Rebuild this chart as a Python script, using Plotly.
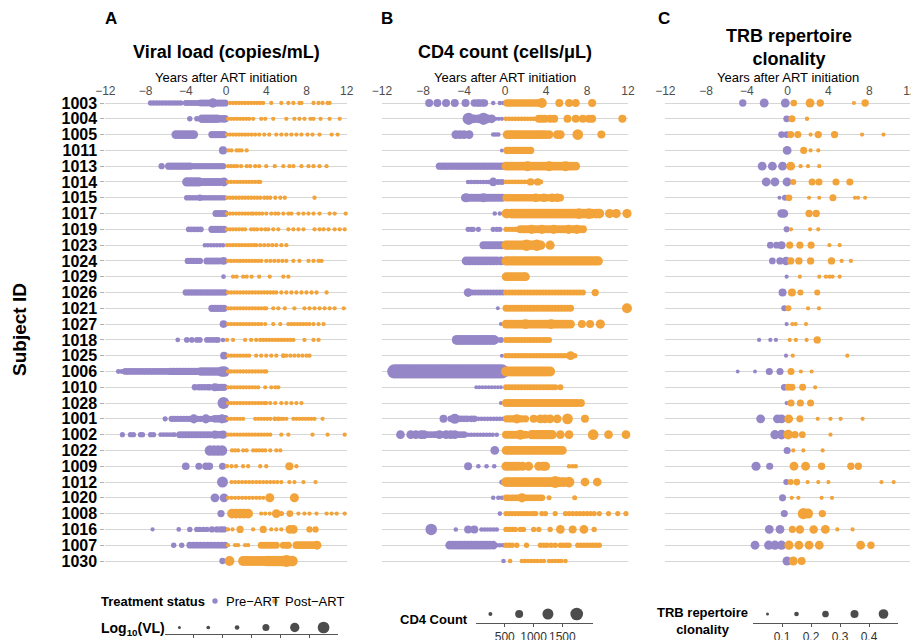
import numpy as np
import plotly.graph_objects as go

subjects = ["1003", "1004", "1005", "1011", "1013", "1014", "1015", "1017", "1019", "1023",
            "1024", "1029", "1026", "1021", "1027", "1018", "1025", "1006", "1010", "1028",
            "1001", "1002", "1022", "1009", "1012", "1020", "1008", "1016", "1007", "1030"]

year_ticks = [-12, -8, -4, 0, 4, 8, 12]
year_labels = ["\u221212", "\u22128", "\u22124", "0", "4", "8", "12"]

# Viral load: per subject, groups of (years after ART, log10 VL)
viral_load = [
    [([-7.5, -7.2, -6.9, -6.6, -6.3, -6.0, -5.7, -5.4, -5.1, -4.8, -4.5], 3.8), ([-4.0, -3.7, -3.4, -3.1, -2.8], 4.0),
     ([-2.5, -2.2, -1.9, -1.6], 4.4), ([-1.3], 5.5), ([-1.0, -0.7, -0.4, -0.1], 4.6),
     ([0.4, 0.7, 1.0, 1.3, 1.6, 1.9, 2.2, 2.5, 2.8, 3.1, 3.4, 3.7, 4.5, 5.5, 6.2, 6.7, 7.3, 7.5, 8.7, 9.2, 9.6, 10.1, 10.3], 3.1)],
    [([-3.6, -2.9], 3.8), ([-2.4, -2.1, -1.8, -1.5, -1.2, -0.9], 5.2), ([-0.6, -0.3, -0.1], 4.8),
     ([0.2, 0.5, 0.8, 1.1, 1.4, 1.7, 2.0, 2.3, 2.7, 3.5, 3.9, 4.7, 6.0, 6.8, 7.3, 7.8, 8.4, 8.7, 9.4, 10.3, 11.3], 3.1)],
    [([-5.0, -4.7, -4.4, -4.1, -3.8, -3.5, -3.2], 5.2), ([-1.4, -1.1, -0.8, -0.5, -0.2], 4.6),
     ([0.1, 0.4, 0.7, 1.0, 1.3, 1.6, 1.9, 2.2, 2.55, 2.9, 3.3, 3.8, 4.3, 5.0, 5.5, 6.0, 6.5, 7.0, 7.5, 8.1, 8.6, 9.3, 10.5, 11.1], 3.1)],
    [([-0.3], 5.0), ([0.25, 0.55, 1.05, 1.3, 1.55, 2.05], 3.1)],
    [([-6.4], 4.2), ([-5.7, -5.4, -5.1, -4.8, -4.5, -4.2, -3.9, -3.6], 4.6),
     ([-3.3, -3.0, -2.7, -2.4, -2.1, -1.8, -1.5, -1.2, -0.9, -0.6, -0.3], 4.2),
     ([0.2, 0.5, 0.8, 1.1, 1.5, 2.05, 2.4, 2.9, 3.3, 4.0, 4.85, 5.7, 6.3, 6.7, 7.5, 8.2, 8.7, 9.3, 10.0], 3.1)],
    [([-3.9, -3.6, -3.3, -3.0, -2.7], 5.5), ([-2.4, -2.1, -1.8, -1.5, -1.2, -0.9, -0.6], 5.0), ([-0.2], 5.3),
     ([0.2, 0.5, 0.8, 1.1, 1.4, 1.7, 2.0, 2.3, 2.6, 2.9, 3.2, 3.4], 3.1)],
    [([-3.9, -3.6, -3.3, -3.0, -2.3, -2.0, -1.7, -1.4, -1.1, -0.8, -0.5, -0.2], 3.9), ([-2.6], 4.3),
     ([0.1, 0.4, 0.7, 1.0, 1.3, 1.6, 1.9, 2.2, 2.5, 2.8, 3.1, 3.4, 3.8, 4.1, 4.4, 4.9, 5.4, 5.85, 8.8], 3.1)],
    [([-1.0, -0.7, -0.4, -0.1], 4.5),
     ([0.1, 0.4, 0.7, 1.0, 1.3, 1.6, 1.9, 2.2, 2.5, 2.7, 3.0, 3.3, 3.6, 4.0, 4.5, 4.9, 5.2, 5.7, 6.2, 6.5, 7.2, 7.7, 8.2, 8.7, 9.3, 10.3, 10.8, 11.9], 3.1)],
    [([-3.7, -3.4, -3.1, -2.8, -2.5], 4.0), ([-1.4, -1.1, -0.8, -0.5, -0.2], 4.6),
     ([0.1, 0.4, 0.7, 1.0, 1.3, 1.6, 1.9, 2.5, 2.8, 3.1, 3.5, 3.9, 4.2, 4.7, 5.2, 6.2, 6.7, 7.2, 7.7, 8.8, 9.3, 9.7, 10.2, 10.8, 11.3, 11.8], 3.1)],
    [([-2.1, -1.8, -1.5, -1.2, -0.9, -0.6, -0.3], 3.3),
     ([0.1, 0.4, 0.7, 1.0, 1.3, 1.6, 1.9, 2.2, 2.5, 2.8, 3.0, 3.4, 3.8, 4.2, 4.6, 5.0, 5.5, 6.0], 3.1)],
    [([-3.8, -3.5, -3.2, -2.9, -2.6], 4.2), ([-1.9, -1.6, -1.3, -1.0, -0.7], 4.5), ([-0.25], 4.8),
     ([0.2, 0.5, 0.8, 1.1, 1.4, 1.7, 2.0, 2.3, 2.6, 2.9, 3.2, 3.5, 4.0, 4.4, 4.8, 5.2, 5.6, 6.0, 6.7, 7.3, 8.2, 8.7, 9.2, 9.5], 3.1)],
    [([-0.25], 3.5), ([0.7, 1.05, 1.7, 2.05, 2.55, 3.3, 4.35, 5.7, 6.2], 3.1)],
    [([-4.0, -3.7, -3.4, -3.1, -2.8, -2.5, -2.2, -1.9, -1.6, -1.3, -1.0, -0.7, -0.4, -0.1], 4.2),
     ([0.2, 0.5, 0.8, 1.1, 1.4, 1.7, 2.0, 2.3, 2.6, 2.9, 3.2, 3.5, 3.8, 4.1, 4.4, 4.7, 5.0, 5.5, 6.0, 6.5, 7.0, 7.5, 8.0, 8.5, 9.0, 10.0], 3.1)],
    [([-1.4, -1.1, -0.8, -0.5, -0.2], 4.6),
     ([0.2, 0.5, 0.8, 1.1, 1.4, 1.7, 2.0, 2.3, 2.6, 2.9, 3.2, 3.5, 3.8, 4.0, 4.7, 5.2, 5.85, 6.8, 7.8, 8.3, 8.8, 9.3, 9.8, 10.3, 10.8, 11.7], 3.1)],
    [([-0.25], 4.8),
     ([0.2, 0.5, 0.8, 1.1, 1.4, 1.7, 2.0, 2.3, 2.6, 2.9, 3.2, 3.5, 3.9, 4.7, 5.4, 6.2, 6.5, 6.8, 7.1, 7.4, 7.7, 8.0, 8.3, 8.7, 9.2, 9.7], 3.1)],
    [([-4.8], 3.5), ([-3.9, -3.4, -2.9, -2.6, -1.9, -1.6, -1.3, -1.0, -0.8], 3.9), ([-0.3], 3.3),
     ([0.1, 0.7, 1.9, 2.5, 3.0, 3.4, 3.7, 4.0, 4.3, 4.6, 4.9, 5.2, 5.5, 5.8, 6.1, 6.4, 6.7, 7.8, 8.7, 9.2], 3.1)],
    [([-0.2], 4.8), ([0.2, 0.5, 0.8, 1.1, 1.4, 1.7, 2.0, 2.3, 3.0, 3.5, 4.0, 4.5, 5.0, 6.0, 6.4, 6.8, 7.2, 7.6, 8.0, 8.3], 3.1),
     ([5.7], 3.6)],
    [([-10.7, -10.35], 3.6), ([-10.0, -9.7, -9.4, -9.1, -8.8, -8.5, -8.2, -7.9, -7.6, -7.3, -7.0, -6.7, -6.4, -6.1, -5.8], 4.4),
     ([-5.5, -5.2, -4.9, -4.6, -4.3, -4.0, -3.7, -3.4, -3.1, -2.8], 4.6), ([-2.5, -2.2, -1.9, -1.6, -1.3, -1.0, -0.7], 5.2),
     ([-0.4, -0.15], 6.0), ([0.2, 0.5, 0.8, 1.1, 1.4, 1.7, 2.0, 2.3, 2.6, 2.9, 3.2, 3.5, 3.8, 4.0], 3.1)],
    [([-3.1], 4.2), ([-2.7, -2.4, -2.1, -1.8, -1.6], 4.2), ([-1.1], 5.0), ([-0.8, -0.5, -0.2], 4.6),
     ([0.2, 0.5, 0.8, 1.1, 1.4, 1.7, 2.0, 2.3, 2.6, 2.9, 3.2, 3.9, 4.5, 4.9, 5.2], 3.1)],
    [([-0.25], 6.6), ([0.2, 0.5, 0.8, 1.1, 1.4, 1.7, 2.0, 2.3, 2.6, 2.9, 3.2, 3.5, 3.8, 4.0, 4.4, 4.9, 5.5, 6.0, 6.5, 7.0, 7.5], 3.1)],
    [([-6.05], 3.7), ([-5.4, -5.1, -4.8, -4.5, -4.2, -3.9, -3.6, -2.8, -2.5, -1.7, -1.4], 4.2), ([-3.2, -2.0, -0.4], 5.4),
     ([-1.1, -0.8, -0.1], 4.8),
     ([0.2, 0.5, 0.8, 1.1, 1.4, 1.7, 2.9, 3.2, 3.5, 3.8, 4.1, 4.4, 5.5, 5.7, 6.0, 6.7, 7.0, 7.3, 7.6, 7.9, 8.2, 8.5, 8.8, 9.6], 3.1),
     ([4.85, 5.2], 3.6)],
    [([-10.3, -9.5, -9.2, -8.5, -8.3, -7.5, -7.2], 3.7), ([-6.5, -6.2, -5.9, -5.6, -5.3, -5.1], 3.5),
     ([-4.6, -4.3, -4.0, -3.7, -3.4, -3.1, -2.8, -2.5, -2.2, -1.9, -1.6], 4.5), ([-1.1, -0.3], 5.0), ([-0.8, -0.55], 4.6),
     ([0.2, 0.5, 0.8, 1.1, 1.4, 1.7, 2.0, 2.3, 2.6, 2.9, 3.2, 3.5, 3.8, 4.1, 4.4, 5.5, 6.2, 8.6, 10.1, 11.8], 3.1)],
    [([-1.6, -1.2, -0.8, -0.4], 6.0), ([0.6, 0.9, 1.2, 1.7, 2.05, 2.7, 3.0, 3.3, 3.6, 3.9, 4.4, 5.0, 5.4], 3.1)],
    [([-4.0], 4.8), ([-2.7], 4.5), ([-2.0, -1.65], 4.7), ([-0.35], 4.5), ([0.1, 0.55, 1.0, 1.7, 2.2, 3.4, 4.0, 7.0], 3.1),
     ([6.3], 5.0)],
    [([-0.35], 6.2), ([0.55, 0.9, 1.25, 1.6, 1.95, 2.3, 2.65, 3.0, 3.35, 3.7, 4.05, 4.4, 4.75, 5.1, 5.5, 6.3, 6.8, 7.7, 8.9], 3.1)],
    [([-1.1, -0.2], 5.3), ([0.2, 0.55, 0.9, 1.25, 1.6, 1.95, 2.3, 2.65, 3.0, 3.35, 3.7], 3.1), ([4.35, 6.8], 5.4)],
    [([-0.5], 4.6), ([0.6, 1.0, 1.4, 1.8, 2.2], 5.7), ([3.5, 3.9, 4.35, 7.2, 7.8, 8.3, 9.0, 10.0, 10.5, 11.0, 11.8], 3.1),
     ([5.0], 5.3), ([5.5], 3.8), ([6.35], 4.4)],
    [([-7.3], 3.0), ([-4.7], 3.5), ([-3.6, -2.9, -2.6, -2.25, -1.9], 3.8), ([-1.4, -0.9, -0.5, -0.2], 4.2),
     ([0.2, 0.65, 2.7, 4.5, 5.0, 5.5], 3.1), ([1.4, 3.7], 4.6), ([6.35, 6.7], 5.2), ([8.3, 8.9], 4.2)],
    [([-5.2, -4.4], 3.8), ([-3.6, -3.25, -2.9, -2.55, -2.2, -1.85, -1.5, -1.15, -0.8, -0.45, -0.1], 4.4),
     ([0.2, 0.9, 1.2, 1.9, 2.2], 3.1), ([3.5, 3.8, 4.1, 4.4, 4.7, 5.0, 5.7, 6.0, 6.2], 4.5),
     ([7.0, 7.3, 7.6, 7.9, 8.2, 8.5, 8.8], 4.8), ([9.05], 5.3)],
    [([-0.35], 4.2), ([0.35], 5.7), ([1.7, 2.0, 2.3, 2.6, 2.9, 3.2, 3.5, 3.8], 5.8), ([4.1, 4.4, 4.7, 5.0, 5.3, 5.6, 6.3, 6.6], 6.1),
     ([6.0], 6.7)],
]

# CD4 count: per subject, groups of (years after ART, cells/uL)
cd4_count = [
    [([-7.4, -6.6, -5.75, -4.9, -3.85], 750), ([-3.0, -2.7, -2.5, -2.2, -2.0], 660), ([-1.15, -0.5, -0.15], 320),
     ([0.2, 0.45, 0.7, 0.95, 1.2, 1.45, 1.7, 1.95, 2.2, 2.45, 2.7, 2.95, 3.2, 3.4], 700), ([3.6], 1050), ([5.3, 6.25, 6.9, 8.5], 750)],
    [([-3.55, -2.1], 1600), ([-3.0, -2.6, -1.7, -1.3], 870), ([-0.9, -0.6, -0.3], 280),
     ([0.1, 0.4, 0.7, 1.0, 1.3, 1.6, 1.9, 2.2, 2.5, 2.8], 350), ([3.3, 3.6, 3.9, 4.4, 4.8, 6.1, 6.9, 7.6, 8.2, 8.5, 11.45], 750)],
    [([-4.8, -4.4, -4.0, -3.5], 870), ([-1.15, -0.9, -0.65], 320),
     ([0.2, 0.45, 0.7, 0.95, 1.2, 1.45, 1.7, 1.95, 2.2, 2.45, 2.7, 2.95, 3.2, 3.45, 3.7, 3.95, 4.3, 5.1, 5.4], 870), ([7.1], 1200),
     ([9.4], 750)],
    [([-0.3], 250), ([0.2, 0.45, 0.7, 0.95, 1.2, 1.45, 1.7, 1.95, 2.2, 2.5], 660)],
    [([-6.4, -6.1, -5.8, -5.5, -5.2, -4.9, -4.6, -4.3, -4.0, -3.7, -3.4, -3.1, -2.8, -2.5, -2.2, -1.9, -1.6, -1.3, -1.0, -0.7, -0.4, -0.15], 660),
     ([0.1, 0.35, 0.6, 0.85, 1.1, 1.35, 1.6, 1.85, 2.1, 2.35, 2.6, 2.85, 3.1, 3.35, 3.6, 3.85, 4.1, 4.35, 4.6, 4.85, 5.1, 5.35, 5.6, 5.85, 6.1, 6.35, 6.6, 6.9], 870),
     ([2.2, 4.3, 5.9], 1080)],
    [([-3.6, -3.3, -3.0, -2.7, -2.4, -2.1, -1.8, -1.6], 320), ([-1.15], 870), ([-0.65, -0.3], 500),
     ([0.1, 0.4, 0.7, 1.0, 1.3, 1.6, 1.9, 2.2, 2.8, 3.1, 3.5], 350), ([2.5, 3.2], 660)],
    [([-3.9, -3.6, -3.3, -3.0, -2.7, -2.4, -2.1, -1.8, -1.5, -1.2, -0.9, -0.6, -0.3], 750), ([-3.8, -2.1], 900),
     ([0.1, 0.35, 0.6, 0.85, 1.1, 1.35, 1.6, 1.85, 2.1, 2.35, 2.6, 2.85, 3.2, 3.5, 3.8, 4.1, 4.5, 4.8, 5.1, 5.4], 660),
     ([3.0, 3.8, 4.6, 5.1], 870)],
    [([-1.0, -0.5], 320), ([0.16], 1050),
     ([0.65, 0.9, 1.15, 1.4, 1.65, 1.9, 2.15, 2.4, 2.65, 2.9, 3.15, 3.4, 3.65, 3.9, 4.15, 4.4, 4.65, 4.9, 5.15, 5.4, 5.65, 5.9, 6.15, 6.4, 6.65, 6.9, 7.4, 7.7, 8.0, 8.5, 8.9, 9.2], 1050),
     ([7.2, 8.2], 1200), ([10.2, 10.85, 11.9], 950)],
    [([-3.6, -3.3, -3.1, -2.6], 400), ([-1.15, -0.8, -0.5], 400), ([0.1, 0.4, 0.7, 1.0, 1.15], 420),
     ([1.5, 1.8, 2.1, 2.4, 2.7, 3.0, 3.3, 3.6, 3.9, 4.2, 4.5, 4.8, 5.1, 5.4, 5.7, 6.0, 6.3, 6.6, 6.9, 7.2, 7.6], 750),
     ([2.6, 3.6, 4.75, 6.2, 7.0], 950)],
    [([-2.1, -1.8, -1.5, -1.2, -0.9, -0.6, -0.3], 750),
     ([0.1, 0.35, 0.6, 0.85, 1.1, 1.35, 1.6, 1.85, 2.1, 2.35, 2.6, 2.85, 3.1, 3.5], 950), ([2.1, 3.1], 1400), ([4.4], 950)],
    [([-3.8, -3.5, -3.2, -2.9, -2.6, -2.3, -2.0, -1.7, -1.4, -1.1, -0.8, -0.4], 870),
     ([0.1, 0.35, 0.6, 0.85, 1.1, 1.35, 1.6, 1.85, 2.1, 2.35, 2.6, 2.85, 3.1, 3.35, 3.6, 3.85, 4.1, 4.35, 4.6, 4.85, 5.1, 5.35, 5.6, 5.85, 6.1, 6.35, 6.6, 6.85, 7.1, 7.35, 7.6, 7.85, 8.1, 8.35, 8.6, 8.85, 9.1], 950)],
    [([0.1, 0.35, 0.6, 0.85, 1.1, 1.35, 1.6, 1.85, 2.0], 870)],
    [([-3.6], 870), ([-3.2, -2.9, -2.6, -2.3, -2.0, -1.7, -1.4, -1.1, -0.8, -0.5, -0.2], 500),
     ([0.1, 0.4, 0.7, 1.0, 1.3, 1.6, 1.9, 2.2, 2.5, 2.8, 3.1, 3.4, 3.7, 4.0, 4.3, 4.6, 4.9, 5.2, 5.5, 5.8, 6.1, 6.4, 6.7, 7.0, 7.3, 7.6], 500),
     ([8.8], 660)],
    [([-0.7], 250),
     ([0.1, 0.4, 0.7, 1.0, 1.3, 1.6, 1.9, 2.2, 2.5, 2.8, 3.1, 3.4, 3.7, 4.0, 4.3, 4.6, 4.9, 5.2, 5.5, 5.8, 6.1, 6.4], 620),
     ([11.9], 1080)],
    [([-0.4], 250),
     ([0.1, 0.35, 0.6, 0.85, 1.1, 1.35, 1.6, 1.85, 2.1, 2.35, 2.6, 2.85, 3.1, 3.35, 3.6, 3.85, 4.1, 4.35, 4.6, 4.85, 5.1, 5.35, 5.6, 5.85, 6.1, 6.4], 870),
     ([2.0, 4.5], 1050), ([7.5, 8.3], 750), ([9.3], 950)],
    [([-4.7, -4.4, -4.1, -3.8, -3.5, -3.2, -2.9, -2.6, -2.3, -2.0, -1.7, -1.4, -1.1], 1080), ([-0.8, -0.4], 500),
     ([0.1, 0.4, 0.7, 1.0, 1.3, 1.6, 1.9, 2.2, 2.5, 2.8, 3.1, 3.4, 3.7, 4.0, 4.3], 500)],
    [([-0.3], 250),
     ([0.1, 0.4, 0.7, 1.0, 1.3, 1.6, 1.9, 2.2, 2.5, 2.8, 3.1, 3.4, 3.7, 4.0, 4.3, 4.6, 4.9, 5.2, 5.5, 5.8, 6.1, 6.8], 420),
     ([6.4], 870)],
    [([-10.8, -10.5, -10.2, -9.9, -9.6, -9.3, -9.0, -8.7, -8.4, -8.1, -7.8, -7.5, -7.2, -6.9, -6.6, -6.3, -6.0, -5.7, -5.4, -5.1, -4.8, -4.5, -4.2, -3.9, -3.6, -3.3, -3.0, -2.7, -2.4, -2.1, -1.8, -1.5, -1.2, -0.9, -0.6, -0.3], 2100),
     ([0.1, 0.35, 0.6, 0.85, 1.1, 1.35, 1.6, 1.85, 2.1, 2.35, 2.6, 2.85, 3.1, 3.35, 3.6, 3.85, 4.1, 4.4], 1080)],
    [([-2.8, -2.5, -2.2, -1.9, -1.6, -1.3, -1.0, -0.7, -0.4], 250),
     ([0.1, 0.4, 0.7, 1.0, 1.3, 1.6, 1.9, 2.2, 2.5, 2.8, 3.1, 3.4, 3.7, 4.0, 4.3, 4.6, 4.9, 5.4], 500)],
    [([-0.4], 250),
     ([0.1, 0.4, 0.7, 1.0, 1.3, 1.6, 1.9, 2.2, 2.5, 2.8, 3.1, 3.4, 3.7, 4.0, 4.3, 4.6, 4.9, 5.2, 5.5, 5.8, 6.1, 6.4, 6.7, 7.0, 7.4], 750)],
    [([-6.0], 750), ([-4.9], 1080), ([-5.3, -4.6, -4.3, -4.0, -3.7, -3.3, -3.0], 580),
     ([-2.6, -2.3, -2.0, -1.7, -1.4, -1.1, -0.8, -0.5, -0.2], 320), ([0.15, 0.4, 0.65, 0.9, 1.4, 1.65, 2.0], 660),
     ([1.15], 950), ([2.8], 750), ([3.45, 3.9, 4.4, 5.1], 870), ([6.1], 1200), ([7.8], 750)],
    [([-12.1], 750), ([-10.2], 870), ([-9.2, -8.7, -8.2, -7.9], 870), ([-7.5, -7.2, -6.9, -6.7], 580),
     ([-6.4, -5.75, -5.3, -4.9], 870), ([-6.1, -5.5, -4.6, -4.3, -4.0], 580),
     ([-3.6, -3.3, -3.0, -2.7, -2.4, -2.1, -1.8, -1.5, -1.2, -0.8], 320), ([0.1, 0.35, 0.6, 0.85, 1.1, 1.4, 1.7, 2.0], 750),
     ([1.5], 1080), ([2.6, 2.85, 3.1, 3.35, 3.6, 3.85, 4.1, 4.35, 4.6], 950), ([5.4, 6.25], 870), ([8.6], 1200),
     ([10.1, 11.8], 870)],
    [([-1.0], 870),
     ([0.1, 0.35, 0.6, 0.85, 1.1, 1.35, 1.6, 1.85, 2.1, 2.35, 2.6, 2.85, 3.1, 3.35, 3.6, 3.85, 4.1, 4.35, 4.6, 4.85, 5.1, 5.35, 5.6], 870)],
    [([-3.6], 750), ([-2.6, -1.8, -1.05], 320), ([0.1, 0.4, 0.7, 1.0, 1.3, 1.7, 2.3, 3.3, 3.7, 3.95], 950),
     ([6.25, 6.6, 6.9], 320)],
    [([-0.3], 400),
     ([0.1, 0.35, 0.6, 0.85, 1.1, 1.35, 1.6, 1.85, 2.1, 2.35, 2.6, 2.85, 3.1, 3.35, 3.6, 3.85, 4.1, 4.35, 4.6, 5.2, 5.5, 5.8], 1050),
     ([4.9], 1550), ([6.25], 1200), ([7.8, 9.0], 870)],
    [([-1.15, -0.65, -0.3], 320), ([0.1, 0.35, 0.6, 0.85, 1.1, 1.35, 1.9, 2.15, 2.4, 2.65, 2.9, 3.15, 3.4, 3.6], 580),
     ([1.65], 950), ([4.3, 6.8], 380)],
    [([-0.5], 320),
     ([0.1, 0.4, 0.7, 1.0, 1.3, 1.6, 1.9, 2.2, 2.5, 2.8, 3.0, 3.6, 3.95, 4.9, 5.9, 6.25, 6.6, 6.95, 7.3, 7.65, 8.0, 8.35, 8.7, 9.2, 10.1, 11.0, 11.8], 400)],
    [([-7.2], 1400), ([-4.8], 320), ([-3.6, -3.0], 750), ([-3.3, -2.3, -2.0, -1.7, -1.4, -1.1, -0.8], 320),
     ([0.1, 0.4, 0.7, 1.0, 1.5, 1.8, 2.8, 3.3, 4.4, 8.7], 420), ([5.4, 7.7], 870), ([6.6], 750)],
    [([-5.4, -5.1, -4.8, -4.5, -4.2, -3.9, -3.6, -3.3, -3.0, -2.7, -2.4, -2.1, -1.8, -1.5, -1.15], 870), ([-0.8, -0.5, -0.2], 320),
     ([0.1, 0.4, 0.7, 1.15, 2.1, 3.45, 3.8, 4.1, 4.5, 4.9, 5.4, 5.7, 6.0, 6.25, 7.1, 7.4, 7.7, 8.0, 8.3, 8.6, 8.9, 9.2], 420)],
    [([-0.15], 320), ([0.5, 1.65, 1.95, 2.25, 2.55, 2.85, 3.15, 3.5, 3.8, 4.3, 4.6, 4.9, 5.2, 5.5, 5.9], 320)],
]

# TRB repertoire clonality: per subject, groups of (years after ART, clonality)
trb_clonality = [
    [([-4.4], 0.3), ([-2.3, -0.23], 0.4), ([0.6], 0.25), ([2.2], 0.4), ([3.2, 7.6], 0.3), ([6.5], 0.12)],
    [([-0.1], 0.25), ([0.42], 0.28), ([1.9], 0.13)],
    [([-0.6, -0.1], 0.25), ([0.3, 1.0], 0.28), ([2.25, 7.3, 9.4], 0.12), ([3.0, 4.6], 0.3)],
    [([-0.05], 0.4), ([1.57], 0.28), ([2.25, 3.0], 0.12)],
    [([-2.5, -1.5, -0.5], 0.4), ([0.3], 0.4), ([1.27, 2.0, 3.1], 0.12)],
    [([-2.1, -1.25, -0.06], 0.4), ([0.55], 0.22), ([2.4, 3.07, 4.74, 6.1], 0.28)],
    [([-0.8], 0.12), ([-0.26], 0.22), ([0.13], 0.25), ([2.1, 3.1, 6.6, 6.9, 7.6], 0.12), ([4.44], 0.28)],
    [([-0.6, -0.36], 0.38), ([2.1, 2.8], 0.3)],
    [([-0.1], 0.22), ([0.33, 2.2, 3.0], 0.12)],
    [([-1.7, -1.1], 0.25), ([-0.6], 0.35), ([0.2, 1.2, 2.3], 0.28), ([4.1, 5.1], 0.12)],
    [([-1.5], 0.25), ([-0.75], 0.3), ([-0.16], 0.38), ([0.3, 1.1, 2.25, 4.3], 0.3), ([5.3, 6.2], 0.12)],
    [([-0.1], 0.12), ([1.2, 3.1, 3.75, 4.1, 4.4, 5.1], 0.12)],
    [([-0.5], 0.35), ([0.42], 0.35), ([1.25, 2.9], 0.22)],
    [([-0.33], 0.22), ([0.07], 0.22), ([2.0, 3.07], 0.12)],
    [([-0.1], 0.12), ([0.46, 0.78, 1.8], 0.12)],
    [([-2.8, -1.7, -1.15], 0.12), ([0.2, 0.8, 1.86], 0.12), ([2.9], 0.3)],
    [([-0.16], 0.12), ([0.5, 5.85], 0.12)],
    [([-4.9, -3.2], 0.1), ([-1.8, -0.75], 0.28), ([0.33], 0.28), ([1.3, 2.35], 0.12)],
    [([-0.33], 0.25), ([0.07, 0.42, 1.47], 0.27), ([2.7], 0.12)],
    [([-0.1], 0.12), ([0.33, 1.25, 2.25], 0.28)],
    [([-2.65, -1.0, -0.6], 0.4), ([0.1], 0.4), ([1.2], 0.28), ([2.95, 4.2, 5.2, 7.35], 0.12)],
    [([-1.25], 0.42), ([-0.6], 0.45), ([0.05], 0.45), ([0.72], 0.3), ([1.44], 0.25), ([4.2], 0.12)],
    [([-0.05], 0.28), ([0.55, 1.54, 3.43], 0.12)],
    [([-3.1], 0.42), ([-1.76], 0.28), ([0.62, 1.76], 0.4), ([3.33, 6.2, 6.93], 0.3)],
    [([-0.13], 0.22), ([0.3], 0.22), ([0.9], 0.25), ([1.96, 3.0, 4.0, 9.2, 10.4], 0.12)],
    [([-0.5], 0.28), ([0.4, 1.05, 3.33, 4.35], 0.12)],
    [([-0.33], 0.28), ([1.54], 0.55), ([2.0], 0.47), ([3.4], 0.3)],
    [([-1.8, -0.75], 0.4), ([0.46], 0.28), ([1.2, 2.55], 0.38), ([3.7], 0.4), ([4.87, 6.37], 0.12)],
    [([-3.2], 0.4), ([-1.86, -1.25, -0.6], 0.42), ([0.13], 0.42), ([1.1, 2.1, 3.1, 7.16], 0.4), ([8.17], 0.3)],
    [([-0.07], 0.4), ([0.55], 0.4), ([1.37], 0.35)],
]

# size-legend breaks
vl_legend_vals = [1.5, 2.5, 3.5, 4.5, 5.5, 6.5]
vl_legend_ticks = [2, 3, 4, 5, 6]
cd4_legend_vals = [250, 750, 1250, 1750]
cd4_legend_ticks = [500, 1000, 1500]
trb_legend_vals = [0.05, 0.15, 0.25, 0.35, 0.45]
trb_legend_ticks = [0.1, 0.2, 0.3, 0.4]

# ---------------- styling / scales ----------------
# page body has an 8px margin, so the figure is laid out in page pixels minus 8
OFF = 8
W, H = 919 - OFF, 640 - OFF
PURPLE = "#9586C7"
ORANGE = "#F2A33A"
GRID = "#d6d6d6"
FONT = "Liberation Sans, Arial, sans-serif"


def px(x):
    return (x - OFF) / W


def py(y):
    return 1 - (y - OFF) / H


def size_vl(v):
    return np.interp(v, [1.0, 1.5, 2.5, 3.5, 4.5, 5.5, 6.5, 7.5], [2.6, 3.0, 3.7, 4.7, 7.0, 9.3, 11.7, 14.0])


def size_cd4(v):
    return np.interp(v, [0, 250, 750, 1250, 1750, 2500], [2.5, 4.0, 8.0, 11.0, 12.7, 16.0])


def size_trb(v):
    return np.interp(v, [0.0, 0.05, 0.15, 0.25, 0.35, 0.45, 0.6], [2.2, 3.0, 4.7, 6.7, 8.0, 9.7, 12.0])


n = len(subjects)


def split(panel):
    out = {"pre": ([], [], []), "post": ([], [], [])}
    for i, groups in enumerate(panel):
        ypos = n - 1 - i
        for times, v in groups:
            for t in times:
                key = "pre" if t < 0 else "post"
                out[key][0].append(t)
                out[key][1].append(ypos)
                out[key][2].append(v)
    return out


fig = go.Figure()

panels = [(viral_load, size_vl, "x", "y"), (cd4_count, size_cd4, "x2", "y2"), (trb_clonality, size_trb, "x3", "y3")]
for data, sfun, xa, ya in panels:
    d = split(data)
    for key, col in (("pre", PURPLE), ("post", ORANGE)):
        xs, ys, vs = d[key]
        fig.add_trace(go.Scatter(
            x=xs, y=ys, mode="markers", xaxis=xa, yaxis=ya, cliponaxis=False,
            marker=dict(size=sfun(np.array(vs)), color=col, line=dict(width=0), opacity=1),
            showlegend=False, hoverinfo="skip"))

# size legends
for vals, sfun, xa, ya in ((vl_legend_vals, size_vl, "x4", "y4"),
                           (cd4_legend_vals, size_cd4, "x5", "y5"),
                           (trb_legend_vals, size_trb, "x6", "y6")):
    fig.add_trace(go.Scatter(
        x=vals, y=[0.5] * len(vals), mode="markers", xaxis=xa, yaxis=ya, cliponaxis=False,
        marker=dict(size=sfun(np.array(vals)), color="black", line=dict(width=0)),
        showlegend=False, hoverinfo="skip"))

tickfont = dict(family=FONT, size=12, color="#4d4d4d")
ydomain = [py(570), py(98)]
yrange = [-(570 - 561) / 15.793, (n - 1) + (103 - 98) / 15.793]


def xaxis(dom, anchor):
    return dict(domain=dom, range=[-12, 12], side="top", anchor=anchor, tickvals=year_ticks,
                ticktext=year_labels, showgrid=False, zeroline=False, showline=False, ticks="",
                tickfont=tickfont, fixedrange=True, tickangle=0)


def yaxis(anchor, labels):
    d = dict(domain=ydomain, range=yrange, anchor=anchor, tickvals=list(range(n)),
             showgrid=True, gridcolor=GRID, gridwidth=1, zeroline=False, showline=False, fixedrange=True)
    if labels:
        d.update(ticktext=subjects[::-1], ticks="outside", ticklen=4, tickcolor="#b0b0b0",
                 tickfont=dict(family=FONT, size=16, color="black", weight="bold"))
    else:
        d.update(showticklabels=False, ticks="")
    return d


def legaxis(dom, rng, ticks, ydom_anchor):
    return dict(domain=dom, range=rng, anchor=ydom_anchor, tickvals=ticks, showgrid=False, zeroline=False,
                showline=True, linecolor="#555555", linewidth=1, ticks="outside", ticklen=3, tickangle=0,
                tickcolor="#555555", tickfont=dict(family=FONT, size=12, color="#333333"), fixedrange=True)


def legyaxis(dom, anchor):
    return dict(domain=dom, range=[0, 1], anchor=anchor, visible=False, fixedrange=True)


fig.update_layout(
    width=W, height=H, margin=dict(l=0, r=0, t=0, b=0, autoexpand=False),
    paper_bgcolor="white", plot_bgcolor="white", font=dict(family=FONT, color="black"),
    xaxis=xaxis([px(105.3), px(346.7)], "y"),
    xaxis2=xaxis([px(382), px(628)], "y2"),
    xaxis3=xaxis([px(665.3), px(910)], "y3"),
    yaxis=yaxis("x", True),
    yaxis2=yaxis("x2", False),
    yaxis3=yaxis("x3", False),
    xaxis4=legaxis([px(165), px(338)], [1, 7], vl_legend_ticks, "y4"),
    yaxis4=legyaxis([py(634), py(621)], "x4"),
    xaxis5=legaxis([px(476), px(593)], [0, 2033], cd4_legend_ticks, "y5"),
    yaxis5=legyaxis([py(622.7), py(605.3)], "x5"),
    xaxis6=legaxis([px(753), px(898)], [0, 0.5], trb_legend_ticks, "y6"),
    yaxis6=legyaxis([py(622.7), py(605.3)], "x6"),
)

ann = []


def add_text(text, x, y, size, xanchor="center", bold=False, angle=0, color="black"):
    ann.append(dict(text=f"<b>{text}</b>" if bold else text, x=px(x), y=py(y), xref="paper", yref="paper",
                    xanchor=xanchor, yanchor="middle", showarrow=False, textangle=angle,
                    font=dict(family=FONT, size=size, color=color)))


add_text("A", 111, 19, 17, bold=True)
add_text("B", 387, 19, 17, bold=True)
add_text("C", 664, 19, 17, bold=True)
add_text("Viral load (copies/mL)", 226, 52, 18, bold=True)
add_text("CD4 count (cells/\u03bcL)", 505, 52, 18, bold=True)
add_text("TRB repertoire<br>clonality", 789, 47, 18, bold=True)
for cx in (226, 505, 788):
    add_text("Years after ART initiation", cx, 77, 13)
add_text("Subject ID", 19, 330, 19, bold=True, angle=-90)
add_text("Treatment status", 99, 601, 13, xanchor="left", bold=True)
add_text("Pre\u2212ART", 224, 601, 13, xanchor="left")
add_text("Post\u2212ART", 283, 601, 13, xanchor="left")
add_text("Log<sub>10</sub>(VL)", 99, 629, 14, xanchor="left", bold=True)
add_text("CD4 Count", 398, 619, 13, xanchor="left", bold=True)
add_text("TRB repertoire<br>clonality", 702, 621, 13, bold=True)
fig.update_layout(annotations=ann)

shapes = []
for cx, col in ((215, PURPLE), (275, ORANGE)):
    shapes.append(dict(type="circle", xref="paper", yref="paper", x0=px(cx - 2.7), x1=px(cx + 2.7),
                       y0=py(601 + 2.7), y1=py(601 - 2.7), fillcolor=col, line=dict(width=0)))
fig.update_layout(shapes=shapes)

fig.write_html("out.html",
               post_script="document.documentElement.style.overflow='hidden';document.body.style.overflow='hidden';")
